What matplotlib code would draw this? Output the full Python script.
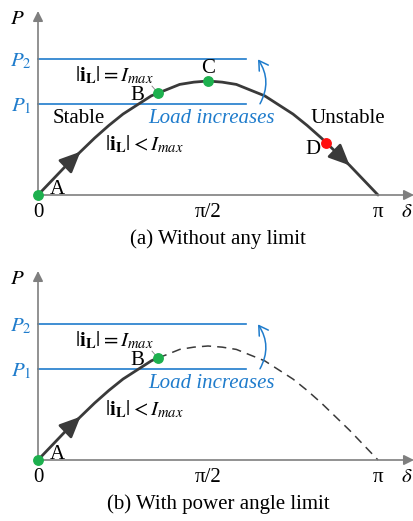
import numpy as np
import matplotlib
matplotlib.use("Agg")
import matplotlib.pyplot as plt

plt.rcParams['font.family'] = ['Liberation Serif', 'DejaVu Serif']
plt.rcParams['mathtext.fontset'] = 'stix'

# power-angle curve (delta in degrees, P relative to peak)
delta_deg = [0, 7.5, 15, 22.5, 30, 37.5, 45, 52.5, 60, 67.5, 75, 82.5, 90,
             97.5, 105, 112.5, 120, 127.5, 135, 142.5, 150, 157.5, 165, 172.5, 180]
p_curve = [0, 0.13, 0.26, 0.38, 0.50, 0.61, 0.71, 0.79, 0.87, 0.92, 0.97, 0.99, 1.0,
           0.99, 0.97, 0.92, 0.87, 0.79, 0.71, 0.61, 0.50, 0.38, 0.26, 0.13, 0]

# operating points A..D
pt_names = ['A', 'B', 'C', 'D']
pt_delta = [0, 63.5, 90, 152.5]
pt_p = [0, 0.895, 1.0, 0.46]
pt_colors = ['#1db04e', '#1db04e', '#1db04e', '#ff1010']

# load levels
p1 = 0.80
p2 = 1.19

xtick_deg = [0, 90, 180]
xtick_labels = ['0', 'π/2', 'π']

captions = ['(a) Without any limit', '(b) With power angle limit']

blue = '#1f7ccc'
gray = '#7f7f7f'
dark = '#3a3a3a'

rad = np.deg2rad(delta_deg)
pt_rad = np.deg2rad(pt_delta)
xpx = np.pi / 340  # radians per pixel

fig = plt.figure(figsize=(4.14, 5.21), dpi=100)
ax_a = fig.add_axes([0, 261 / 521, 1, 260 / 521])
ax_b = fig.add_axes([0, 0, 1, 261 / 521])
ax_a.set_ylim(-65 / 114, 195 / 114)
ax_b.set_ylim(-61 / 114, 200 / 114)


def curve_arrow(ax, i0, i1):
    ax.annotate('', xy=(rad[i1], p_curve[i1]), xytext=(rad[i0], p_curve[i0]),
                arrowprops=dict(arrowstyle='-|>,head_length=0.6,head_width=0.27',
                                mutation_scale=21, color=dark, lw=2.0,
                                shrinkA=0, shrinkB=0), zorder=4)


def draw_panel(ax, limited, caption):
    ax.set_xlim(-38 * xpx, 376 * xpx)
    ax.axis('off')
    ytop = ax.get_ylim()[1]

    # axes with arrow heads
    ax.annotate('', xy=(376 * xpx, 0), xytext=(0, 0),
                arrowprops=dict(arrowstyle='-|>', mutation_scale=15, color=gray,
                                lw=1.2, shrinkA=0, shrinkB=0))
    ax.annotate('', xy=(0, ytop - 11 / 114), xytext=(0, 0),
                arrowprops=dict(arrowstyle='-|>', mutation_scale=15, color=gray,
                                lw=1.2, shrinkA=0, shrinkB=0))
    ax.text(-21 * xpx, ytop - 20 / 114, '$P$', fontsize=15, ha='center', va='center')

    # load levels
    xend = 208 * xpx
    for val, lab in [(p1, '$P_1$'), (p2, '$P_2$')]:
        ax.plot([0, xend], [val, val], color=blue, lw=1.2)
        ax.text(-6 * xpx, val - 0.02, lab, color=blue, fontsize=15,
                ha='right', va='center')
    ax.annotate('', xy=(220 * xpx, p2), xytext=(222 * xpx, p1),
                arrowprops=dict(arrowstyle='->,head_length=0.5,head_width=0.3',
                                connectionstyle='arc3,rad=0.3', color=blue, lw=1.1,
                                mutation_scale=13, shrinkA=0, shrinkB=0))

    # P-delta curve
    if limited:
        bx, bp = pt_rad[1], pt_p[1]
        sx = [r for r in rad if r < bx] + [bx]
        sp = [p for r, p in zip(rad, p_curve) if r < bx] + [bp]
        dx = [bx] + [r for r in rad if r > bx]
        dp = [bp] + [p for r, p in zip(rad, p_curve) if r > bx]
        ax.plot(sx, sp, color=dark, lw=2.0, solid_capstyle='round')
        ax.plot(dx, dp, color=dark, lw=1.1, linestyle=(0, (6, 4)))
        curve_arrow(ax, 2, 3)
        show = [0, 1]
    else:
        ax.plot(rad, p_curve, color=dark, lw=2.0, solid_capstyle='round')
        curve_arrow(ax, 2, 3)
        curve_arrow(ax, 21, 22)
        show = [0, 1, 2, 3]

    for i in show:
        ax.plot(pt_rad[i], pt_p[i], 'o', color=pt_colors[i], ms=6.8, zorder=6,
                clip_on=False)

    # point labels
    ax.text(19 * xpx, 0.05, 'A', fontsize=15, ha='center', va='center')
    ax.text(99 * xpx, pt_p[1] - 0.02, 'B', fontsize=15, ha='center', va='center')
    ax.plot([114 * xpx, pt_rad[1]], [pt_p[1] + 0.06, pt_p[1]], color=gray, lw=0.6)
    if not limited:
        ax.text(pt_rad[2], 1.11, 'C', fontsize=15, ha='center', va='center')
        ax.text(275 * xpx, 0.40, 'D', fontsize=15, ha='center', va='center')
        ax.text(15 * xpx, 0.67, 'Stable', fontsize=15, ha='left', va='center')
        ax.text(273 * xpx, 0.67, 'Unstable', fontsize=15, ha='left', va='center')

    ax.text(37 * xpx, 1.045, r'$|\mathbf{i}_\mathbf{L}| = I_{max}$', fontsize=15,
            ha='left', va='center')
    ax.text(67 * xpx, 0.44, r'$|\mathbf{i}_\mathbf{L}| < I_{max}$', fontsize=15,
            ha='left', va='center')
    ax.text(110 * xpx, 0.675, 'Load increases', color=blue, style='italic',
            fontsize=15, ha='left', va='center')

    # tick labels
    for d, lab in zip(xtick_deg, xtick_labels):
        ax.text(np.deg2rad(d), -0.15, lab, fontsize=15, ha='center', va='center')
    ax.text(369 * xpx, -0.15, r'$\delta$', fontsize=15, ha='center', va='center')

    ax.text(180 * xpx, -0.385, caption, fontsize=15, ha='center', va='center')


draw_panel(ax_a, False, captions[0])
draw_panel(ax_b, True, captions[1])

fig.savefig('out.png', dpi=100)
